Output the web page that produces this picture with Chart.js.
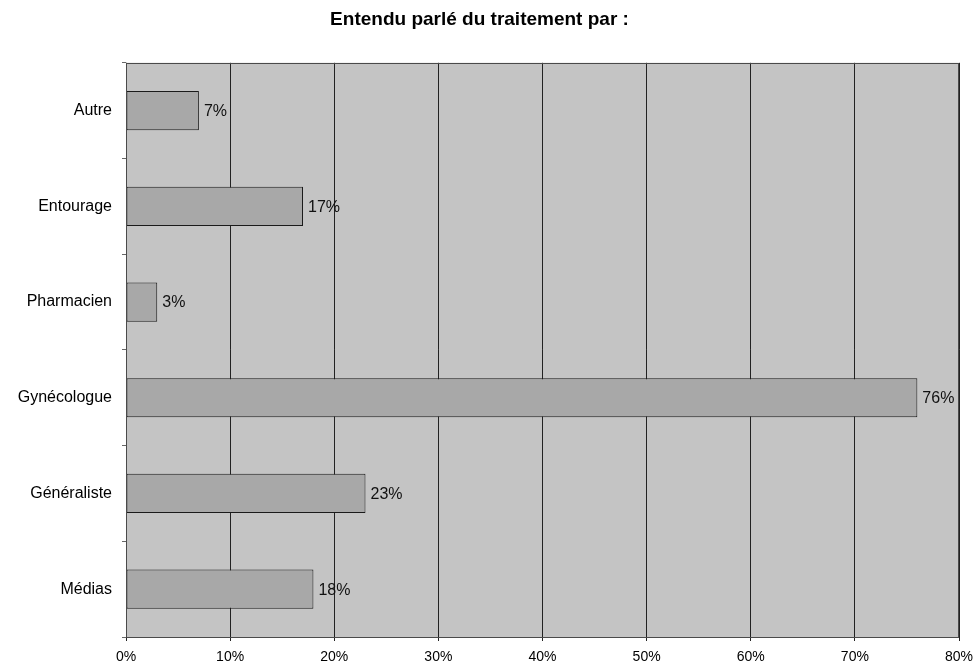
<!DOCTYPE html>
<html lang="fr">
<head>
<meta charset="utf-8">
<script src="https://cdn.jsdelivr.net/npm/chart.js@4/dist/chart.umd.min.js"></script>
<style>
  html, body { margin: 0; padding: 0; background: #ffffff; }
  #wrap { width: 974px; height: 665px; }
</style>
</head>
<body>
<div id="wrap"><canvas id="chart" width="974" height="665"></canvas></div>
<script>
// Sources citées (part des répondantes, en %)
const categories = ['Autre', 'Entourage', 'Pharmacien', 'Gynécologue', 'Généraliste', 'Médias'];
const percentages = [7, 17, 3, 76, 23, 18];
const tickValues = [0, 10, 20, 30, 40, 50, 60, 70, 80];
const chartTitle = 'Entendu parlé du traitement par :';

const FONT = '"Liberation Sans", Arial, sans-serif';

// Gray plot background behind the bars, thin frame around it
const plotBackground = {
  id: 'plotBackground',
  beforeDraw(chart) {
    const { ctx, chartArea: a } = chart;
    ctx.save();
    ctx.fillStyle = '#c4c4c4';
    ctx.fillRect(a.left, a.top, a.right - a.left, a.bottom - a.top);
    ctx.restore();
  },
  afterDraw(chart) {
    const { ctx, chartArea: a } = chart;
    ctx.save();
    ctx.strokeStyle = '#4a4a4a';
    ctx.lineWidth = 1;
    ctx.strokeRect(Math.round(a.left) + 0.5, Math.round(a.top) + 0.5,
                   Math.round(a.right - a.left) - 1, Math.round(a.bottom - a.top));
    ctx.restore();
  }
};

// Percentage written just past the end of each bar
const valueLabels = {
  id: 'valueLabels',
  afterDatasetsDraw(chart) {
    const { ctx } = chart;
    const meta = chart.getDatasetMeta(0);
    ctx.save();
    ctx.font = '16px ' + FONT;
    ctx.fillStyle = '#111111';
    ctx.textAlign = 'left';
    ctx.textBaseline = 'middle';
    meta.data.forEach((bar, i) => {
      ctx.fillText(percentages[i] + '%', bar.x + 5, bar.y + 1);
    });
    ctx.restore();
  }
};

new Chart(document.getElementById('chart'), {
  type: 'bar',
  data: {
    labels: categories,
    datasets: [{
      data: percentages,
      backgroundColor: '#a8a8a8',
      borderColor: '#1a1a1a',
      borderWidth: 1,
      borderSkipped: false,
      categoryPercentage: 1,
      barPercentage: 0.41
    }]
  },
  options: {
    indexAxis: 'y',
    responsive: false,
    animation: false,
    layout: { padding: { left: 0, right: 15, top: 0, bottom: 0 } },
    plugins: {
      legend: { display: false },
      tooltip: { enabled: false },
      title: {
        display: true,
        text: chartTitle,
        color: '#000000',
        font: { family: FONT, size: 19, weight: 'bold' },
        padding: { top: 8, bottom: 32 }
      }
    },
    scales: {
      x: {
        type: 'linear',
        min: 0,
        max: 80,
        afterBuildTicks(axis) { axis.ticks = tickValues.map(v => ({ value: v })); },
        afterFit(axis) {
          axis.height = 28;
          axis.paddingLeft = 0;
          axis.paddingRight = 0;
        },
        border: { display: false },
        grid: { color: '#222222', lineWidth: 1, tickLength: 4, drawTicks: true },
        ticks: {
          padding: 8,
          color: '#000000',
          font: { family: FONT, size: 14 },
          callback: v => v + '%'
        }
      },
      y: {
        afterFit(axis) {
          axis.width = 126;
          axis.paddingTop = 0;
          axis.paddingBottom = 0;
        },
        border: { display: false },
        grid: { display: true, drawOnChartArea: false, offset: true, tickLength: 4, color: '#666666' },
        ticks: {
          padding: 10,
          color: '#000000',
          font: { family: FONT, size: 16 }
        }
      }
    }
  },
  plugins: [plotBackground, valueLabels]
});
</script>
</body>
</html>
